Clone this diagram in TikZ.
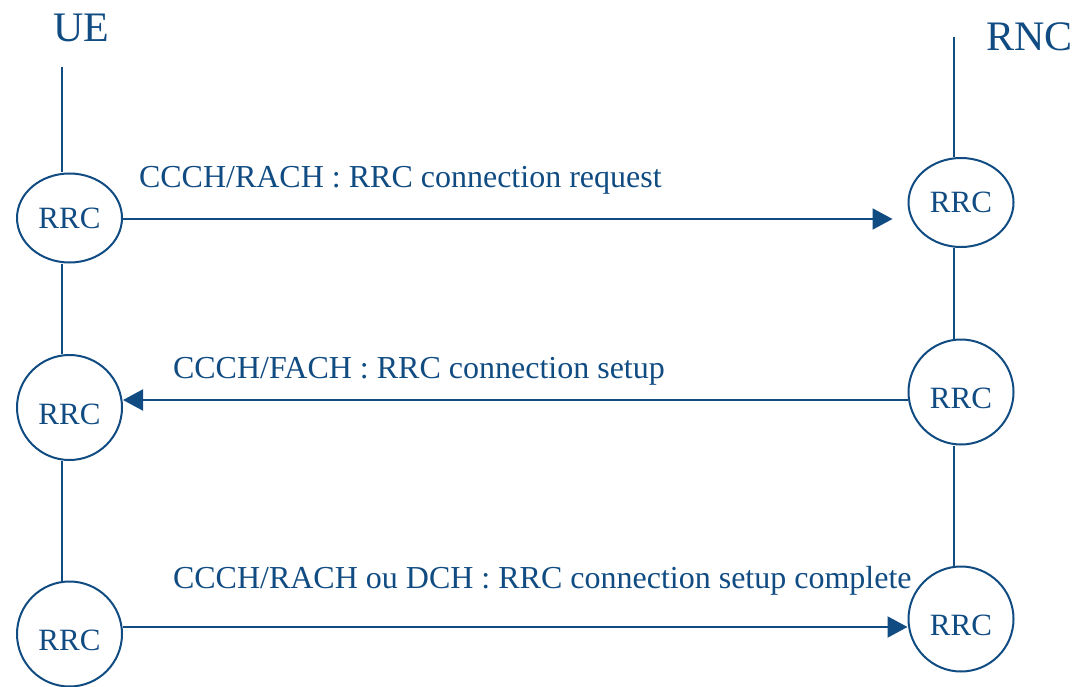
\documentclass[tikz,border=0pt]{standalone}
\usepackage{fontspec}
\setmainfont{Liberation Serif}
\usetikzlibrary{shapes.geometric,arrows.meta}
\definecolor{rrcblue}{RGB}{16,75,130}

\begin{document}
\begin{tikzpicture}[x=1pt, y=-1pt, line width=2pt, color=rrcblue,
  rrc/.style={draw, circle, minimum size=105pt, inner sep=0pt, text height=33pt, text depth=0pt, font=\fontsize{31}{36}\selectfont},
  rrcoval/.style={draw, ellipse, minimum width=105pt, minimum height=89pt, inner sep=0pt, font=\fontsize{31}{36}\selectfont},
  msg/.style={-{Triangle[length=20pt,width=21pt]}},
  lbl/.style={anchor=base west, inner sep=0pt, font=\fontsize{32}{38}\selectfont},
  ent/.style={anchor=base west, inner sep=0pt, font=\fontsize{42}{48}\selectfont}]
\useasboundingbox (0,0) rectangle (1075,687);

\node[ent] (ue) at (52,42) {UE};
\node[ent] (rnc) at (985,51) {RNC};
\coordinate (uetop) at (62,67);   % top ends of the two lifelines
\coordinate (rnctop) at (954,37);

\node[rrcoval] (u1) at (69.5,218) {RRC};  % UE side
\node[rrc] (u2) at (69.5,407.5) {RRC};
\node[rrc] (u3) at (69.5,634) {RRC};
\node[rrcoval] (r1) at (961,202.5) {RRC}; % RNC side
\node[rrc] (r2) at (961,392) {RRC};
\node[rrc] (r3) at (961,619) {RRC};

\draw (uetop) -- (uetop |- u1.north);
\draw (uetop |- u1.south) -- (uetop |- u2.north);
\draw (uetop |- u2.south) -- (uetop |- u3.north);
\draw (rnctop) -- (rnctop |- r1.north);
\draw (rnctop |- r1.south) -- (rnctop |- r2.north);
\draw (rnctop |- r2.south) -- (rnctop |- r3.north);

\coordinate (m1) at (0,219);  % heights of the messages
\coordinate (m2) at (0,400);
\coordinate (m3) at (0,627);
\draw[msg, shorten >=15pt] (u1.east |- m1) -- (r1.west |- m1);
\draw[msg] (r2.west |- m2) -- (u2.east |- m2);
\draw[msg] (u3.east |- m3) -- (r3.west |- m3);

\node[lbl] (l1) at (138,187) {CCCH/RACH : RRC connection request};
\node[lbl] (l2) at (172,378) {CCCH/FACH : RRC connection setup};
\node[lbl] (l3) at (172,588) {CCCH/RACH ou DCH : RRC connection setup complete};
\end{tikzpicture}
\end{document}
